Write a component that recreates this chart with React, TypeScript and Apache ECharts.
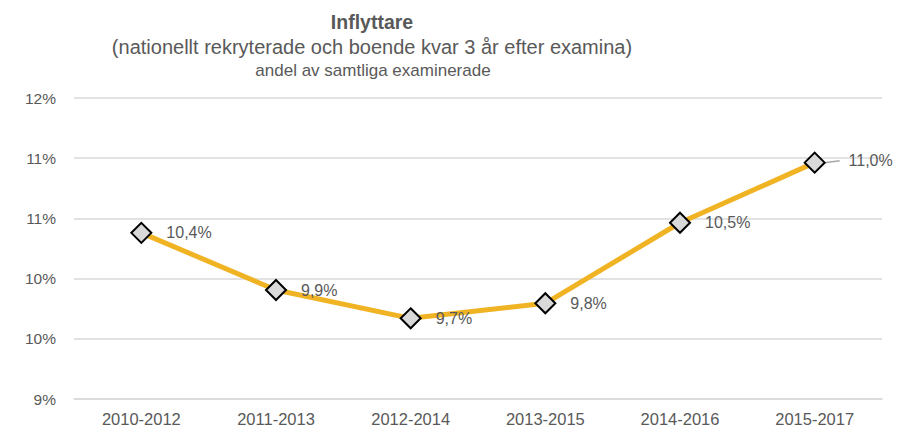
import React, { useEffect, useRef } from "react";
import * as echarts from "echarts";

const categories = ["2010-2012", "2011-2013", "2012-2014", "2013-2015", "2014-2016", "2015-2017"];
const values = [10.38, 9.905, 9.67, 9.795, 10.464, 10.963];
const titleText = "Inflyttare";
const subtitleLine1 = "(nationellt rekryterade och boende kvar 3 år efter examina)";
const subtitleLine2 = "andel av samtliga examinerade";

const FONT = "'Liberation Sans', Arial, sans-serif";

export default function App() {
  const ref = useRef<HTMLDivElement>(null);
  useEffect(() => {
    if (!ref.current) return;
    const chart = echarts.init(ref.current, undefined, { renderer: "svg" });
    const last = values.length - 1;
    chart.setOption({
      animation: false,
      backgroundColor: "#ffffff",
      textStyle: { fontFamily: FONT },
      title: [
        {
          text: titleText,
          left: 367,
          top: 7,
          textAlign: "center",
          textStyle: { fontFamily: FONT, fontSize: 19.5, fontWeight: "bold", color: "#595959" },
        },
        {
          text: subtitleLine1,
          left: 367,
          top: 32,
          textAlign: "center",
          textStyle: { fontFamily: FONT, fontSize: 20, fontWeight: "normal", color: "#595959" },
        },
        {
          text: subtitleLine2,
          left: 368,
          top: 57,
          textAlign: "center",
          textStyle: { fontFamily: FONT, fontSize: 17, fontWeight: "normal", color: "#595959" },
        },
      ],
      grid: { left: 74, right: 39, top: 98, bottom: 37, containLabel: false },
      xAxis: {
        type: "category",
        data: categories,
        boundaryGap: true,
        axisLine: { show: true, lineStyle: { color: "#d9d9d9", width: 1.5 } },
        axisTick: { show: false },
        axisLabel: { color: "#595959", fontSize: 16.5, fontFamily: FONT, margin: 11 },
      },
      yAxis: {
        type: "value",
        min: 9,
        max: 11.5,
        interval: 0.5,
        axisLine: { show: false },
        axisTick: { show: false },
        splitLine: { show: true, lineStyle: { color: "#d9d9d9", width: 1.5 } },
        axisLabel: {
          color: "#595959",
          fontSize: 15.5,
          fontFamily: FONT,
          margin: 18,
          formatter: (v: number) => Math.round(v) + "%",
        },
      },
      series: [
        {
          type: "line",
          data: values.map((v, i) =>
            i === last
              ? {
                  value: v,
                  labelLine: { show: true, lineStyle: { color: "#a6a6a6", width: 1.5 } },
                }
              : { value: v }
          ),
          lineStyle: { color: "#F0B323", width: 5 },
          symbol: "diamond",
          symbolSize: 20,
          itemStyle: { color: "#d9d9d9", borderColor: "#000000", borderWidth: 2 },
          label: {
            show: true,
            position: "right",
            distance: 14,
            offset: [0, 4],
            color: "#595959",
            fontSize: 16,
            fontFamily: FONT,
            formatter: (p: any) =>
              (p.dataIndex === last ? "  " : "") +
              Number(p.value).toFixed(1).replace(".", ",") +
              "%",
          },
          labelLine: { show: false },
          labelLayout: (p: any) => (p.dataIndex === last ? { dx: 0, dy: -2 } : {}),
          z: 3,
        },
      ],
    });
    return () => chart.dispose();
  }, []);
  return (
    <div
      ref={ref}
      style={{ position: "fixed", left: 0, top: 0, width: 921, height: 436 }}
    />
  );
}
